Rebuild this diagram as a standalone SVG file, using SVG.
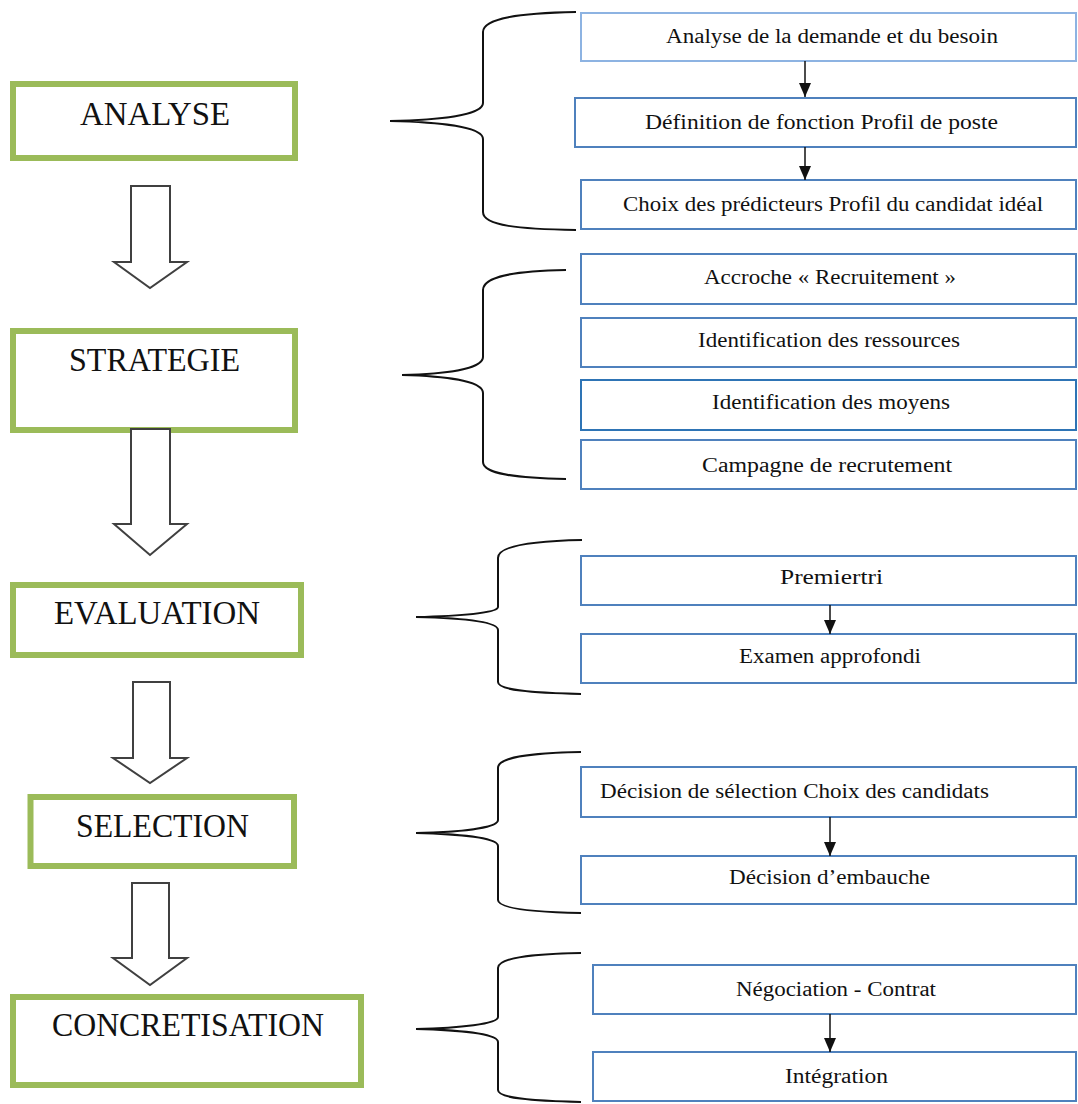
<svg xmlns="http://www.w3.org/2000/svg" width="1078" height="1104" viewBox="0 0 1078 1104">
<style>
.stage{fill:#fff;stroke:#9bbb59;stroke-width:6}
.stxt{font-family:"Liberation Serif","Times New Roman",serif;font-size:34px;fill:#111;text-anchor:middle}
.step{fill:#fff;stroke:#4f81bd;stroke-width:2}
.rtxt{font-family:"Liberation Serif","Times New Roman",serif;font-size:20px;fill:#111;text-anchor:middle}
.block{fill:#fff;stroke:#404040;stroke-width:2;stroke-linejoin:miter}
.brace{fill:none;stroke:#111;stroke-width:2}
.small{stroke:#111;stroke-width:1.5;fill:none;marker-end:url(#ah)}
</style>
<defs>
<marker id="ah" viewBox="0 0 14 12" refX="14" refY="6" markerWidth="14" markerHeight="12" markerUnits="userSpaceOnUse" orient="auto">
<path d="M0,0 L14,6 L0,12 z" fill="#111"/>
</marker>
</defs>
<rect width="1078" height="1104" fill="#fff"/>

<g id="stage-analyse"><rect class="stage" x="13" y="84" width="282" height="74"/><text class="stxt" x="155" y="125" textLength="150" lengthAdjust="spacingAndGlyphs">ANALYSE</text></g>
<g id="stage-strategie"><rect class="stage" x="13" y="331" width="282" height="99"/><text class="stxt" x="154.5" y="371" textLength="171" lengthAdjust="spacingAndGlyphs">STRATEGIE</text></g>
<g id="stage-evaluation"><rect class="stage" x="13" y="585" width="288" height="70"/><text class="stxt" x="157" y="624" textLength="206" lengthAdjust="spacingAndGlyphs">EVALUATION</text></g>
<g id="stage-selection"><rect class="stage" x="30.5" y="797" width="263.5" height="69"/><text class="stxt" x="162.5" y="837" textLength="173" lengthAdjust="spacingAndGlyphs">SELECTION</text></g>
<g id="stage-concretisation"><rect class="stage" x="13" y="997" width="348" height="88"/><text class="stxt" x="188" y="1036" textLength="272" lengthAdjust="spacingAndGlyphs">CONCRETISATION</text></g>

<g id="step-1"><rect class="step" x="581" y="13" width="495" height="48" style="stroke:#8db3e2"/><text class="rtxt" x="832" y="43" textLength="332" lengthAdjust="spacingAndGlyphs">Analyse de la demande et du besoin</text></g>
<g id="step-2"><rect class="step" x="575" y="98" width="501" height="49"/><text class="rtxt" x="821.5" y="129" textLength="353" lengthAdjust="spacingAndGlyphs">Définition de fonction Profil de poste</text></g>
<g id="step-3"><rect class="step" x="581" y="180" width="495" height="49"/><text class="rtxt" x="833" y="211" textLength="420" lengthAdjust="spacingAndGlyphs">Choix des prédicteurs Profil du candidat idéal</text></g>

<g id="step-4"><rect class="step" x="581" y="254" width="495" height="50"/><text class="rtxt" x="830" y="284" textLength="252" lengthAdjust="spacingAndGlyphs">Accroche « Recruitement »</text></g>
<g id="step-5"><rect class="step" x="581" y="318" width="495" height="49"/><text class="rtxt" x="829" y="347" textLength="262" lengthAdjust="spacingAndGlyphs">Identification des ressources</text></g>
<g id="step-6"><rect class="step" x="581" y="380" width="495" height="50" style="stroke:#2e74b5"/><text class="rtxt" x="831" y="409" textLength="238" lengthAdjust="spacingAndGlyphs">Identification des moyens</text></g>
<g id="step-7"><rect class="step" x="581" y="440" width="495" height="49"/><text class="rtxt" x="827" y="472" textLength="250" lengthAdjust="spacingAndGlyphs">Campagne de recrutement</text></g>

<g id="step-8"><rect class="step" x="581" y="556" width="495" height="49"/><text class="rtxt" x="831.5" y="584" textLength="103" lengthAdjust="spacingAndGlyphs">Premiertri</text></g>
<g id="step-9"><rect class="step" x="581" y="634" width="495" height="49"/><text class="rtxt" x="830" y="663" textLength="182" lengthAdjust="spacingAndGlyphs">Examen approfondi</text></g>

<g id="step-10"><rect class="step" x="581" y="767" width="495" height="50"/><text class="rtxt" x="794.5" y="798" textLength="389" lengthAdjust="spacingAndGlyphs">Décision de sélection Choix des candidats</text></g>
<g id="step-11"><rect class="step" x="581" y="856" width="495" height="48"/><text class="rtxt" x="829.5" y="884" textLength="201" lengthAdjust="spacingAndGlyphs">Décision d’embauche</text></g>

<g id="step-12"><rect class="step" x="593" y="965" width="483" height="49"/><text class="rtxt" x="836" y="996" textLength="200" lengthAdjust="spacingAndGlyphs">Négociation - Contrat</text></g>
<g id="step-13"><rect class="step" x="593" y="1052" width="483" height="49"/><text class="rtxt" x="836.5" y="1083" textLength="103" lengthAdjust="spacingAndGlyphs">Intégration</text></g>

<g id="connectors">
<polygon class="block" points="131,186 170,186 170,262 187,262 150,288 114,262 131,262"/>
<polygon class="block" points="131,429 170,429 170,524 187,524 150,555 114,524 131,524"/>
<polygon class="block" points="133,682 170,682 170,758 187,758 150,783 113,758 133,758"/>
<polygon class="block" points="132,883 169,883 169,958 187,958 150,985 113,958 132,958"/>

<path class="brace" d="M576,12 C520,13 483,18 483,32 L483,103 C483,115 440,120 390,121 C440,122 483,127 483,139 L483,212 C483,226 520,229 576,230"/>
<path class="brace" d="M566,270 C515,271 483,276 483,290 L483,357 C483,369 445,374 402,375 C445,376 483,381 483,393 L483,462 C483,474 515,478 566,479"/>
<path class="brace" d="M582,540 C530,541 498,546 498,558 L498,607 C498,613 460,616 416,617 C460,618 498,621 498,630 L498,682 C498,690 530,693 581,694"/>
<path class="brace" d="M581,752 C530,753 498,757 498,768 L498,820 C498,828 460,832 416,833 C460,834 498,838 498,846 L498,900 C498,908 530,912 581,913"/>
<path class="brace" d="M581,953 C530,954 498,958 498,968 L498,1017 C498,1024 460,1028 416,1029 C460,1030 498,1034 498,1042 L498,1090 C498,1098 530,1101 581,1102"/>

<line class="small" x1="805" y1="61" x2="805" y2="97"/>
<line class="small" x1="805" y1="147" x2="805" y2="180"/>
<line class="small" x1="830" y1="605" x2="830" y2="634"/>
<line class="small" x1="830" y1="817" x2="830" y2="856"/>
<line class="small" x1="830" y1="1014" x2="830" y2="1052"/>
</g>
</svg>
